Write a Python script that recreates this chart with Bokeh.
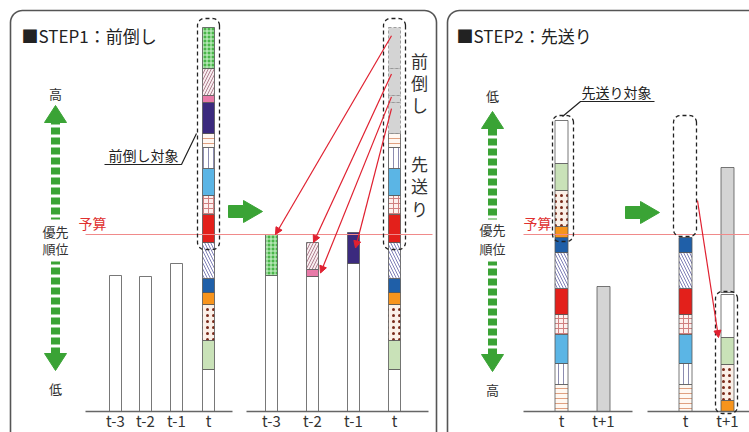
import numpy as np
from bokeh.plotting import figure
from bokeh.models import Range1d, ColumnDataSource, Arrow, NormalHead
from bokeh.core.properties import value
from bokeh.embed import file_html
from bokeh.resources import INLINE

FONT = "Noto Sans CJK JP"

# ---------------- data ----------------
step1_title = "■STEP1：前倒し"
step2_title = "■STEP2：先送り"
budget = 177

step1_ticks = ["t-3", "t-2", "t-1", "t"]
step2_ticks = ["t", "t+1"]

past_periods = ["t-3", "t-2", "t-1"]
past_spend = [136, 135, 148]

# current-year (t) items, stacked bottom -> top
t_items = ["white", "lgreen", "dots", "orange", "blue", "phatch", "red", "pgrid",
           "lblue", "vlines", "plines", "navy", "pink", "rhatch", "ggrid"]
t_values = [42, 29, 36, 12, 14, 36, 28, 19, 27, 21, 14, 31, 7, 27, 41]

front_items = ["ggrid", "rhatch", "pink", "navy"]
front_to = ["t-3", "t-2", "t-2", "t-1"]

# STEP2 current-year items, bottom -> top
s2_items = ["plines", "vlines", "lblue", "pgrid", "red", "phatch", "blue",
            "orange", "dots", "lgreen", "white"]
s2_values = [27, 21, 29, 20, 26, 36, 15, 11, 36, 27, 43]
next_spend = 125
defer_items = ["orange", "dots", "lgreen", "white"]

# ---------------- styles ----------------
STY = {
    "white":  ("#ffffff", " ", "#ffffff", 6),
    "lgreen": ("#c9e2b8", " ", "#ffffff", 6),
    "dots":   ("#fbf0e8", ".", "#7a2a1a", 6),
    "orange": ("#f7941d", " ", "#ffffff", 6),
    "blue":   ("#1f5fa8", " ", "#ffffff", 6),
    "phatch": ("#ffffff", "\\", "#8080b8", 6),
    "red":    ("#e3201b", " ", "#ffffff", 6),
    "pgrid":  ("#fdf0ee", "+", "#d08080", 5),
    "lblue":  ("#5bb5e5", " ", "#ffffff", 6),
    "vlines": ("#ffffff", "|", "#8c8cb0", 5),
    "plines": ("#fff8f2", "-", "#e0a080", 5),
    "navy":   ("#3b2a7e", " ", "#ffffff", 6),
    "pink":   ("#e87aa8", " ", "#ffffff", 6),
    "rhatch": ("#f8eef0", "/", "#b08090", 6),
    "ggrid":  ("#48b648", "+", "#d4f4d4", 4),
    "grey":   ("#d4d4d4", " ", "#ffffff", 6),
}

BASE = 411  # page pixel row of value 0
X1 = dict(zip(step1_ticks, [115, 145, 176, 208]))
X2 = dict(zip(step1_ticks, [271, 312, 353, 394]))
X3 = dict(zip(step2_ticks, [561, 603]))
X4 = dict(zip(step2_ticks, [685, 727]))
BW = 12
GREEN = "#3aa335"
REDL = "#e02030"


def Y(px):
    return BASE - px


p = figure(width=749, height=432, x_range=Range1d(0, 749), y_range=Range1d(BASE - 432, BASE),
           toolbar_location=None, output_backend="svg", x_axis_type=None, y_axis_type=None,
           min_border=0)
p.grid.visible = False
p.outline_line_color = None
p.background_fill_color = "white"
p.border_fill_color = "white"


def rrect(x0, x1, y0, y1, r, n=10):
    xs, ys = [], []
    for cx, cy, a0 in [(x1 - r, y1 - r, 0), (x0 + r, y1 - r, 90), (x0 + r, y0 + r, 180), (x1 - r, y0 + r, 270)]:
        a = np.radians(np.linspace(a0, a0 + 90, n))
        xs += list(cx + r * np.cos(a))
        ys += list(cy + r * np.sin(a))
    return xs, ys


# panel borders
for x0, x1 in [(10, 436), (447, 770)]:
    xs, ys = rrect(x0, x1, Y(445), Y(10), 12)
    p.patch(xs, ys, fill_color=None, line_color="#555555", line_width=1.6)

rows = {k: [] for k in ["left", "right", "bottom", "top", "fill", "hatch", "hcol", "hscale"]}
grey_rows = {k: [] for k in ["left", "right", "bottom", "top"]}


def stack(x, items, vals, base=0, grey=(), w=BW):
    pos = {}
    b = base
    for it, v in zip(items, vals):
        if it in grey:
            grey_rows["left"].append(x - w / 2); grey_rows["right"].append(x + w / 2)
            grey_rows["bottom"].append(b); grey_rows["top"].append(b + v)
        else:
            f, h, hc, hs = STY[it]
            rows["left"].append(x - w / 2); rows["right"].append(x + w / 2)
            rows["bottom"].append(b); rows["top"].append(b + v)
            rows["fill"].append(f); rows["hatch"].append(h)
            rows["hcol"].append(hc); rows["hscale"].append(hs)
        pos[it] = (b, b + v)
        b += v
    return pos, b


tval = dict(zip(t_items, t_values))
s2val = dict(zip(s2_items, s2_values))

# ---- STEP1 sub-panel 1
for per, v in zip(past_periods, past_spend):
    stack(X1[per], ["white"], [v])
pos_t1, top_t1 = stack(X1["t"], t_items, t_values)

# ---- STEP1 sub-panel 2
target_pos = {}
for per, v in zip(past_periods, past_spend):
    moved = [it for it in t_items if it in front_items and front_to[front_items.index(it)] == per]
    pos, _ = stack(X2[per], ["white"] + moved, [v] + [tval[m] for m in moved])
    for m in moved:
        target_pos[m] = pos[m]
pos_t2, _ = stack(X2["t"], t_items, t_values, grey=front_items)

# ---- STEP2 sub-panel 1
pos_s1, top_s1 = stack(X3["t"], s2_items, s2_values, w=13)
stack(X3["t+1"], ["grey"], [next_spend], w=13)

# ---- STEP2 sub-panel 2
keep = [it for it in s2_items if it not in defer_items]
pos_s2, top_s2 = stack(X4["t"], keep, [s2val[k] for k in keep], w=13)
dpos, dtop = stack(X4["t+1"], defer_items, [s2val[d] for d in defer_items], w=13)
stack(X4["t+1"], ["grey"], [next_spend], base=dtop + 2, w=13)

src = ColumnDataSource(rows)
p.quad(left="left", right="right", bottom="bottom", top="top", source=src,
       fill_color="fill", hatch_pattern="hatch", hatch_color="hcol", hatch_scale="hscale",
       hatch_weight=1, line_color="#555555", line_width=0.8)
p.quad(left="left", right="right", bottom="bottom", top="top", source=ColumnDataSource(grey_rows),
       fill_color="#d4d4d4", line_color="#8a8a8a", line_width=0.8, line_dash="3 2")

# axes baselines
for x0, x1 in [(85, 232), (246, 428), (523, 632), (647, 760)]:
    p.line([x0, x1], [0, 0], line_color="#666666", line_width=1.6)
# budget lines
for x0, x1 in [(85, 432), (523, 760)]:
    p.line([x0, x1], [budget, budget], line_color="#f08a8a", line_width=1)

# dashed rounded boxes
boxes = []
for xc in [X1["t"], X2["t"]]:
    boxes.append((xc - 11, xc + 11, pos_t1["red"][0] - 7, top_t1 + 9))
boxes.append((X3["t"] - 9, X3["t"] + 12, pos_s1["orange"][0] - 4, top_s1 + 5))
boxes.append((X4["t"] - 12, X4["t"] + 11, top_s2 + 1, top_s1 + 5))
boxes.append((X4["t+1"] - 12, X4["t+1"] + 10, -2, dtop + 3))
for x0, x1, y0, y1 in boxes:
    xs, ys = rrect(x0, x1, y0, y1, 7)
    p.patch(xs, ys, fill_color=None, line_color="#222222", line_width=1.3, line_dash="4 3")

# red arrows STEP1
xs0, ys0, xs1, ys1 = [], [], [], []
end_frac = [1.0, 1.0, 0.5, 0.5]
end_dx = [4, 1, 8, 2]
for it, ef, dx, per in zip(front_items, end_frac, end_dx, front_to):
    b, t = pos_t2[it]
    xs0.append(X2["t"] - 3); ys0.append(t - 0.2 * (t - b))
    tb, tt = target_pos[it]
    xs1.append(X2[per] + dx); ys1.append(tb + ef * (tt - tb))
# red arrow STEP2
xs0.append(boxes[3][1] + 1); ys0.append(boxes[3][2] + 36)
xs1.append(X4["t+1"] - 9); ys1.append(dpos["lgreen"][1])
p.add_layout(Arrow(end=NormalHead(size=7, fill_color=REDL, line_color=REDL, line_width=1),
                   x_start="x0", y_start="y0", x_end="x1", y_end="y1",
                   source=ColumnDataSource(dict(x0=xs0, y0=ys0, x1=xs1, y1=ys1)),
                   line_color=REDL, line_width=1.2))

# leader lines for labels
p.line([104, 181, 196], [Y(164), Y(164), Y(133)], line_color="#222222", line_width=1.2)
p.line([562, 580, 654], [Y(116), Y(101), Y(101)], line_color="#222222", line_width=1.2)

# green priority arrows
for xc, ytop, ybot in [(55, Y(105), Y(370)), (492, Y(111), Y(371))]:
    hl, hw = 17, 11
    p.segment(xc, ybot + hl - 1, xc, ytop - hl + 1, line_color=GREEN, line_width=9, line_dash="7 3")
    p.patch([xc - hw, xc + hw, xc], [ytop - hl, ytop - hl, ytop], fill_color=GREEN, line_color=GREEN)
    p.patch([xc - hw, xc + hw, xc], [ybot + hl, ybot + hl, ybot], fill_color=GREEN, line_color=GREEN)
    p.rect([xc], [Y(240)], width=34, height=42, fill_color="white", line_color=None)

# block arrows
for cx, cy in [(245, Y(211)), (642, Y(212))]:
    p.patch([cx - 17, cx - 2, cx - 2, cx + 17, cx - 2, cx - 2, cx - 17],
            [cy - 6, cy - 6, cy - 11, cy, cy + 11, cy + 6, cy + 6],
            fill_color=GREEN, line_color=GREEN)


def txt(xs, ys, texts, size, color="#222222", align="center"):
    p.text(x=xs, y=ys, text=texts, text_font=value(FONT), text_font_size=size,
           text_color=color, text_align=align, text_baseline="middle")


txt([21, 456], [Y(35), Y(35)], [step1_title, step2_title], "17px", align="left")
txt([X1[k] for k in step1_ticks] + [X2[k] for k in step1_ticks]
    + [X3[k] for k in step2_ticks] + [X4[k] for k in step2_ticks],
    [Y(420)] * 12, step1_ticks + step1_ticks + step2_ticks + step2_ticks, "15px", color="#333333")
txt([92, 537], [Y(222), Y(222)], ["予算", "予算"], "14px", color="#e03030")
txt([143, 616], [Y(154), Y(91)], ["前倒し対象", "先送り対象"], "14px")
txt([55, 55, 55, 55, 492, 492, 492, 492],
    [Y(93), Y(388), Y(231), Y(248), Y(95), Y(389), Y(229), Y(248)],
    ["高", "低", "優先", "順位", "低", "高", "優先", "順位"], "13px", color="#333333")
txt([419] * 6, [Y(60), Y(82), Y(104), Y(163), Y(185), Y(208)],
    ["前", "倒", "し", "先", "送", "り"], "17px", color="#333333")

open("out.html", "w").write(file_html(p, INLINE))
